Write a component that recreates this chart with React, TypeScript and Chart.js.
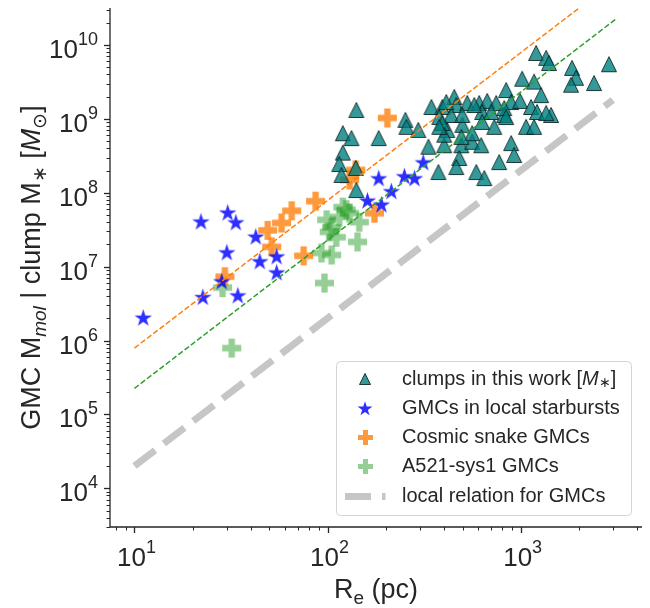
import React, { useEffect, useRef } from "react";
import { Chart, registerables } from "chart.js";

Chart.register(...registerables);

// ---------- data ----------
// clumps in this work: effective radius (pc) and stellar mass (Msun)
const clumpR = [141, 120, 133, 184, 120, 115, 118, 140, 141, 253, 256, 295, 333, 375, 345, 393, 453, 464, 529, 610, 671, 747, 841, 893, 994, 1018, 1174, 1202, 1355, 1403, 1276, 1132, 1216, 1438, 1355, 1067, 1174, 437, 379, 417, 499, 393, 632, 704, 822, 632, 730, 402, 493, 561, 625, 481, 464, 589, 648, 774, 893, 925, 1845, 1935, 1824, 2399, 2866, 499, 402, 561, 493, 412, 575, 822, 379, 841];
const clumpM = [1.32e9, 6.4e8, 5.5e8, 5.5e8, 3.5e8, 2.45e8, 1.74e8, 2.17e8, 1.09e8, 9.7e8, 7.8e8, 7.1e8, 4.2e8, 1.91e8, 1.45e9, 1.45e9, 1.98e9, 1.54e9, 1.64e9, 1.64e9, 1.75e9, 1.64e9, 2.46e9, 1.69e9, 1.75e9, 3.5e9, 3.2e9, 7.8e9, 6.7e9, 5.7e9, 2.1e9, 1.45e9, 1.24e9, 1.13e9, 1.2e9, 7.8e8, 7.8e8, 1.13e9, 1.06e9, 7.1e8, 8.3e8, 8.8e8, 1.24e9, 1.24e9, 1.13e9, 9.1e8, 7.8e8, 4.4e8, 4.4e8, 4.9e8, 4.4e8, 2.96e8, 2.23e8, 1.91e8, 1.58e8, 2.6e8, 4.7e8, 3.25e8, 4.9e9, 3.6e9, 2.9e9, 3.06e9, 5.5e9, 1.13e9, 6.1e8, 6.4e8, 5.7e8, 1.69e9, 1.54e9, 1.4e9, 7.8e8, 1.06e9];

// GMCs in local starbursts
const starburstR = [11.1, 22.1, 30.4, 33.5, 42.5, 30.1, 28.3, 22.6, 34.3, 44.6, 54.5, 54.5, 184, 250, 282, 313, 214, 161, 190];
const starburstM = [2.0e6, 4.0e7, 5.3e7, 3.9e7, 2.5e7, 1.53e7, 6.2e6, 3.8e6, 4.0e6, 1.16e7, 1.35e7, 8.2e6, 1.54e8, 1.64e8, 1.54e8, 2.53e8, 1.03e8, 7.7e7, 6.8e7];

// Cosmic snake GMCs
const snakeR = [29.4, 49.0, 57.8, 65.2, 86.7, 51.4, 75.2, 204, 140, 130, 175];
const snakeM = [7.3e6, 3.1e7, 3.9e7, 5.7e7, 7.7e7, 1.85e7, 1.4e7, 1.03e9, 2.04e8, 1.49e8, 5.3e7];

// A521-sys1 GMCs
const a521R = [28.6, 31.9, 120, 130, 115, 98.9, 105, 102, 146, 111, 143, 93, 105, 96.4, 125];
const a521M = [5.2e6, 7.9e5, 6.4e7, 5.3e7, 4.7e7, 4.3e7, 3.4e7, 2.95e7, 4.0e7, 2.5e7, 2.16e7, 1.53e7, 1.44e7, 6.0e6, 5.9e7];

// relations (end points)
const fitR = [10, 3150];
const snakeFitM = [7.9e5, 7.8e10];
const a521FitM = [2.25e5, 2.3e10];
const localR = [10, 3000];
const localM = [2.0e4, 1.8e9];

// axes
const xMin = 7.47;
const xMax = 4250;
const yMin = 2990;
const yMax = 3.17e10;
const xTickExps = [1, 2, 3];
const yTickExps = [4, 5, 6, 7, 8, 9, 10];

const legendLabels = [
  "clumps in this work",
  "GMCs in local starbursts",
  "Cosmic snake GMCs",
  "A521-sys1 GMCs",
  "local relation for GMCs",
];

// ---------- styling ----------
const FONT = '"Liberation Sans", Arial, Helvetica, sans-serif';
const TEXT = "#262626";
const AXIS = "#262626";
const TEAL = "rgba(0,128,128,0.8)";
const BLUE = "rgba(0,0,255,0.82)";
const ORANGE = "rgba(255,127,14,0.8)";
const GREEN = "rgba(44,160,44,0.5)";
const GRAY = "#c6c6c6";

type Seg = { t: string; size: number; italic?: boolean; dy?: number };

function setFont(ctx: CanvasRenderingContext2D, s: Seg) {
  ctx.font = `${s.italic ? "italic " : ""}${s.size}px ${FONT}`;
}
function segsWidth(ctx: CanvasRenderingContext2D, segs: Seg[]) {
  let w = 0;
  for (const s of segs) {
    setFont(ctx, s);
    w += ctx.measureText(s.t).width;
  }
  return w;
}
function drawSegs(ctx: CanvasRenderingContext2D, segs: Seg[], x: number, y: number) {
  let cx = x;
  for (const s of segs) {
    setFont(ctx, s);
    ctx.fillText(s.t, cx, y + (s.dy || 0));
    cx += ctx.measureText(s.t).width;
  }
}

function makeCanvas(w: number, h: number, draw: (ctx: CanvasRenderingContext2D) => void) {
  const c = document.createElement("canvas");
  c.width = w;
  c.height = h;
  const ctx = c.getContext("2d") as CanvasRenderingContext2D;
  draw(ctx);
  return c;
}
function triangleMarker(size: number) {
  const w = Math.ceil(size + 3);
  return makeCanvas(w, w, (ctx) => {
    const c = w / 2;
    const h = size / 2;
    ctx.beginPath();
    ctx.moveTo(c, c - h);
    ctx.lineTo(c + h, c + h);
    ctx.lineTo(c - h, c + h);
    ctx.closePath();
    ctx.fillStyle = TEAL;
    ctx.fill();
    ctx.lineWidth = 1;
    ctx.strokeStyle = "rgba(10,30,30,0.85)";
    ctx.stroke();
  });
}
function starMarker(r: number) {
  const w = Math.ceil(2 * r + 2);
  return makeCanvas(w, w, (ctx) => {
    const c = w / 2;
    const ri = r * 0.381966;
    ctx.beginPath();
    for (let i = 0; i < 10; i++) {
      const a = (i * Math.PI) / 5;
      const rr = i % 2 === 0 ? r : ri;
      const px = c + rr * Math.sin(a);
      const py = c - rr * Math.cos(a);
      if (i === 0) ctx.moveTo(px, py);
      else ctx.lineTo(px, py);
    }
    ctx.closePath();
    ctx.fillStyle = BLUE;
    ctx.fill();
  });
}
function plusMarker(size: number, color: string) {
  const w = Math.ceil(size + 2);
  return makeCanvas(w, w, (ctx) => {
    const c = w / 2;
    const h = size / 2;
    const t = size / 6;
    ctx.beginPath();
    ctx.moveTo(c - t, c - h);
    ctx.lineTo(c + t, c - h);
    ctx.lineTo(c + t, c - t);
    ctx.lineTo(c + h, c - t);
    ctx.lineTo(c + h, c + t);
    ctx.lineTo(c + t, c + t);
    ctx.lineTo(c + t, c + h);
    ctx.lineTo(c - t, c + h);
    ctx.lineTo(c - t, c + t);
    ctx.lineTo(c - h, c + t);
    ctx.lineTo(c - h, c - t);
    ctx.lineTo(c - t, c - t);
    ctx.closePath();
    ctx.fillStyle = color;
    ctx.fill();
  });
}

const pts = (xs: number[], ys: number[]) => xs.map((x, i) => ({ x, y: ys[i] }));

function powSegs(exp: number): Seg[] {
  return [
    { t: "10", size: 26 },
    { t: String(exp), size: 18, dy: -13 },
  ];
}

export default function App() {
  const ref = useRef<HTMLCanvasElement | null>(null);

  useEffect(() => {
    if (!ref.current) return;
    const tri = triangleMarker(15);
    const star = starMarker(9.2);
    const plusO = plusMarker(19, ORANGE);
    const plusG = plusMarker(19, GREEN);
    const triL = triangleMarker(11);
    const starL = starMarker(7.8);
    const plusOL = plusMarker(15, ORANGE);
    const plusGL = plusMarker(15, GREEN);

    const decor = {
      id: "decor",
      afterDraw(chart: any) {
        const ctx: CanvasRenderingContext2D = chart.ctx;
        const { left, right, top, bottom } = chart.chartArea;
        const xs = chart.scales.x;
        const ys = chart.scales.y;
        ctx.save();
        // spines
        ctx.strokeStyle = AXIS;
        ctx.lineWidth = 1.3;
        ctx.beginPath();
        ctx.moveTo(left, top);
        ctx.lineTo(left, bottom);
        ctx.lineTo(right, bottom);
        ctx.stroke();
        // ticks
        const tick = (isX: boolean, v: number, major: boolean) => {
          const len = major ? 6 : 3.5;
          ctx.lineWidth = major ? 1.3 : 1;
          ctx.beginPath();
          if (isX) {
            const p = Math.round(xs.getPixelForValue(v)) + 0.5;
            ctx.moveTo(p, bottom);
            ctx.lineTo(p, bottom + len);
          } else {
            const p = Math.round(ys.getPixelForValue(v)) + 0.5;
            ctx.moveTo(left, p);
            ctx.lineTo(left - len, p);
          }
          ctx.stroke();
        };
        for (let d = 0; d <= 4; d++) {
          for (let m = 1; m <= 9; m++) {
            const v = m * Math.pow(10, d);
            if (v >= xMin && v <= xMax) tick(true, v, m === 1);
          }
        }
        for (let d = 3; d <= 10; d++) {
          for (let m = 1; m <= 9; m++) {
            const v = m * Math.pow(10, d);
            if (v >= yMin && v <= yMax) tick(false, v, m === 1);
          }
        }
        // tick labels
        ctx.fillStyle = TEXT;
        ctx.textBaseline = "alphabetic";
        ctx.textAlign = "left";
        for (const e of xTickExps) {
          const segs = powSegs(e);
          const w = segsWidth(ctx, segs);
          const px = xs.getPixelForValue(Math.pow(10, e));
          drawSegs(ctx, segs, px - w / 2 + 2, bottom + 39);
        }
        for (const e of yTickExps) {
          const segs = powSegs(e);
          const w = segsWidth(ctx, segs);
          const py = ys.getPixelForValue(Math.pow(10, e));
          drawSegs(ctx, segs, left - 12 - w, py + 13);
        }
        // x title
        const xt: Seg[] = [
          { t: "R", size: 27 },
          { t: "e", size: 19, dy: 6 },
          { t: " (pc)", size: 27 },
        ];
        const xw = segsWidth(ctx, xt);
        drawSegs(ctx, xt, (left + right) / 2 - xw / 2, 598);
        // y title
        const yt: Seg[] = [
          { t: "GMC M", size: 27 },
          { t: "mol", size: 19, italic: true, dy: 6 },
          { t: " | clump M", size: 27 },
          { t: "\u2217", size: 19, dy: 6 },
          { t: " [", size: 27 },
          { t: "M", size: 27, italic: true },
          { t: "\u2299", size: 19, dy: 6 },
          { t: "]", size: 27 },
        ];
        const yw = segsWidth(ctx, yt);
        ctx.save();
        ctx.translate(40, (top + bottom) / 2);
        ctx.rotate(-Math.PI / 2);
        drawSegs(ctx, yt, -yw / 2, 0);
        ctx.restore();

        // legend
        const bx = 336.5, by = 361.5, bw = 295, bh = 154, r = 4;
        ctx.beginPath();
        ctx.moveTo(bx + r, by);
        ctx.lineTo(bx + bw - r, by);
        ctx.arcTo(bx + bw, by, bx + bw, by + r, r);
        ctx.lineTo(bx + bw, by + bh - r);
        ctx.arcTo(bx + bw, by + bh, bx + bw - r, by + bh, r);
        ctx.lineTo(bx + r, by + bh);
        ctx.arcTo(bx, by + bh, bx, by + bh - r, r);
        ctx.lineTo(bx, by + r);
        ctx.arcTo(bx, by, bx + r, by, r);
        ctx.closePath();
        ctx.fillStyle = "rgba(255,255,255,0.8)";
        ctx.fill();
        ctx.strokeStyle = "#d4d4d4";
        ctx.lineWidth = 1;
        ctx.stroke();

        const rowY = [379, 408.5, 437.7, 466.8, 496.5];
        const mx = 365;
        const icons = [triL, starL, plusOL, plusGL];
        icons.forEach((img, i) => {
          ctx.drawImage(img, Math.round(mx - img.width / 2), Math.round(rowY[i] - img.height / 2));
        });
        ctx.fillStyle = GRAY;
        ctx.fillRect(345, rowY[4] - 3.5, 26, 7);
        ctx.fillRect(382, rowY[4] - 3.5, 3.5, 7);

        ctx.fillStyle = TEXT;
        ctx.textBaseline = "middle";
        const tx = 402;
        drawSegs(
          ctx,
          [
            { t: legendLabels[0] + " [", size: 20 },
            { t: "M", size: 20, italic: true },
            { t: "\u2217", size: 14, dy: 4 },
            { t: "]", size: 20 },
          ],
          tx,
          rowY[0]
        );
        for (let i = 1; i < 5; i++) {
          drawSegs(ctx, [{ t: legendLabels[i], size: 20 }], tx, rowY[i]);
        }
        ctx.restore();
      },
    };

    const chart = new Chart(ref.current, {
      type: "scatter",
      data: {
        datasets: [
          {
            label: legendLabels[4],
            data: pts(localR, localM),
            showLine: true,
            borderColor: GRAY,
            borderWidth: 7,
            borderDash: [26, 11],
            borderCapStyle: "butt",
            pointRadius: 0,
            order: 0,
          },
          {
            label: "Cosmic snake relation",
            data: pts(fitR, snakeFitM),
            showLine: true,
            borderColor: "#ff7f0e",
            borderWidth: 1.5,
            borderDash: [5.5, 2.4],
            pointRadius: 0,
            order: 0,
          },
          {
            label: "A521-sys1 relation",
            data: pts(fitR, a521FitM),
            showLine: true,
            borderColor: "#2ca02c",
            borderWidth: 1.5,
            borderDash: [5.5, 2.4],
            pointRadius: 0,
            order: 0,
          },
          {
            label: legendLabels[0],
            data: pts(clumpR, clumpM),
            pointStyle: tri as any,
            pointRadius: 7,
            order: 1,
          },
          {
            label: legendLabels[1],
            data: pts(starburstR, starburstM),
            pointStyle: star as any,
            pointRadius: 7,
            order: 2,
          },
          {
            label: legendLabels[2],
            data: pts(snakeR, snakeM),
            pointStyle: plusO as any,
            pointRadius: 7,
            order: 3,
          },
          {
            label: legendLabels[3],
            data: pts(a521R, a521M),
            pointStyle: plusG as any,
            pointRadius: 7,
            order: 4,
          },
        ],
      } as any,
      options: {
        responsive: false,
        animation: false,
        devicePixelRatio: 1,
        layout: { padding: { left: 0, right: 7, top: 8, bottom: 0 } },
        plugins: { legend: { display: false }, tooltip: { enabled: false } },
        events: [],
        scales: {
          x: {
            type: "logarithmic",
            min: xMin,
            max: xMax,
            grid: { display: false },
            border: { display: false },
            ticks: { display: false },
            afterFit: (s: any) => {
              s.height = 81;
            },
          },
          y: {
            type: "logarithmic",
            min: yMin,
            max: yMax,
            grid: { display: false },
            border: { display: false },
            ticks: { display: false },
            afterFit: (s: any) => {
              s.width = 110;
            },
          },
        },
      } as any,
      plugins: [decor],
    });
    return () => chart.destroy();
  }, []);

  return (
    <div style={{ position: "absolute", left: 0, top: 0, width: 650, height: 608, background: "#fff" }}>
      <canvas ref={ref} width={650} height={608} style={{ display: "block", width: 650, height: 608 }} />
    </div>
  );
}
